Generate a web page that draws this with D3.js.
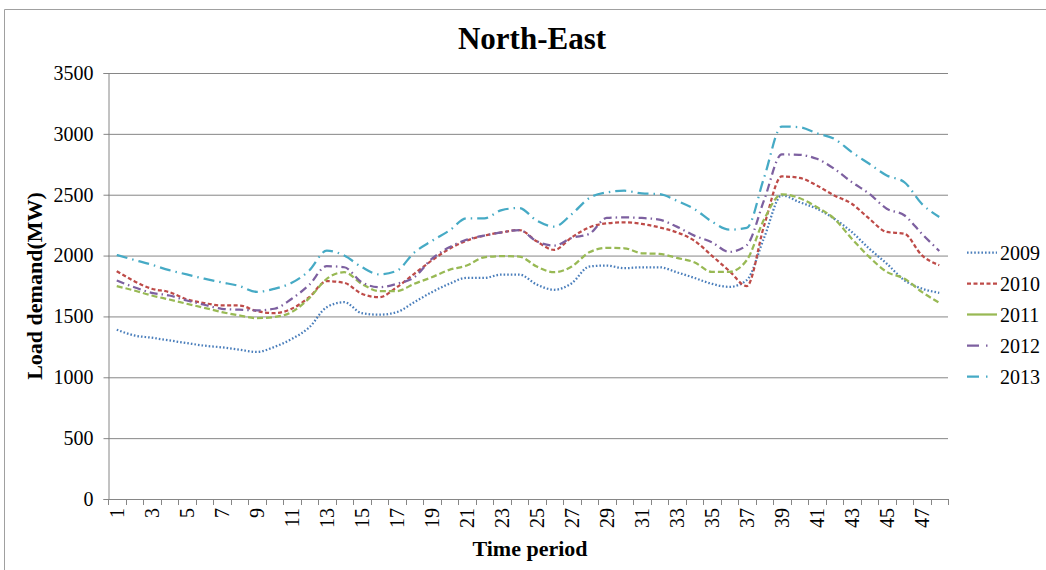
<!DOCTYPE html>
<html><head><meta charset="utf-8">
<script src="https://cdn.jsdelivr.net/npm/d3@7"></script>
<style>
html,body{margin:0;padding:0;background:#fff;}
svg{display:block;font-family:"Liberation Serif","Times New Roman",serif;}
</style></head>
<body>
<svg id="chart" width="1046" height="570"></svg>
<script>
const periods = d3.range(1, 49);
const seriesNames = ["2009", "2010", "2011", "2012", "2013"];
const yTicks = [0, 500, 1000, 1500, 2000, 2500, 3000, 3500];
const s2009 = [1391,1344,1325,1303,1281,1260,1246,1227,1208,1249,1315,1410,1576,1617,1527,1514,1535,1617,1699,1768,1817,1817,1844,1844,1762,1719,1773,1910,1918,1896,1904,1904,1863,1817,1768,1743,1798,2150,2495,2440,2385,2303,2194,2057,1934,1798,1729,1694];
const s2010 = [1872,1790,1727,1700,1640,1610,1590,1590,1544,1527,1563,1658,1790,1776,1686,1658,1740,1850,1959,2055,2123,2164,2191,2210,2117,2046,2150,2232,2265,2273,2260,2232,2191,2123,2000,1874,1749,2250,2650,2639,2576,2494,2426,2303,2194,2180,2003,1921];
const s2011 = [1749,1713,1672,1639,1604,1571,1536,1508,1486,1495,1536,1650,1809,1863,1768,1708,1708,1768,1822,1883,1918,1986,1995,1992,1910,1863,1910,2027,2063,2060,2019,2014,1981,1945,1866,1866,1962,2300,2503,2473,2399,2303,2139,1989,1866,1811,1702,1612];
const s2012 = [1795,1740,1694,1672,1631,1596,1563,1555,1550,1563,1645,1760,1913,1904,1781,1740,1768,1822,1973,2068,2131,2164,2191,2210,2117,2082,2145,2178,2309,2314,2309,2295,2238,2164,2110,2030,2085,2459,2831,2828,2795,2713,2604,2508,2385,2331,2180,2038];
const s2013 = [2005,1964,1925,1880,1845,1810,1780,1750,1702,1727,1776,1877,2041,2000,1905,1845,1875,2025,2120,2205,2306,2306,2374,2391,2287,2238,2340,2473,2519,2533,2511,2505,2451,2383,2280,2213,2227,2645,3060,3055,3005,2959,2850,2754,2658,2604,2426,2317];
const seriesValues = [s2009, s2010, s2011, s2012, s2013];

const colors = ["#4A7EBB", "#BE4B48", "#98B954", "#7D60A0", "#46AAC5"];
const dashes = ["1.6 2", "4 2.5", "6 3", "8 4 1.5 4", "11 5 1.5 5"];
const legendDashes = ["1.6 2", "4 2.5", "30 0", "12 7 1.5 10", "12 7 1.5 10"];

const svg = d3.select("#chart");
const L = 108, R = 948, T = 73, B = 499;

// outer frame
svg.append("path").attr("d", "M4.5,570 V9.5 H1046").attr("fill", "none").attr("stroke", "#a0a0a0").attr("stroke-width", 1);

const x = d3.scaleBand().domain(periods).range([L, R]).paddingInner(0).paddingOuter(0);
const y = d3.scaleLinear().domain([0, 3500]).range([B, T]);

// gridlines
svg.append("g").selectAll("line").data(yTicks.filter(d => d > 0)).join("line")
  .attr("x1", L).attr("x2", R).attr("y1", d => y(d) + 0.5).attr("y2", d => y(d) + 0.5)
  .attr("stroke", "#868686").attr("stroke-width", 1);

// y axis
const yAxis = svg.append("g").attr("transform", `translate(${L + 0.5},0)`)
  .call(d3.axisLeft(y).tickValues(yTicks).tickSize(5).tickPadding(10).tickFormat(d3.format("d")));
yAxis.select(".domain").attr("stroke", "#868686");
yAxis.selectAll(".tick line").attr("stroke", "#868686");
yAxis.selectAll(".tick text").attr("font-size", 20).attr("fill", "#000").attr("font-family", "Liberation Serif");

// x axis line + ticks between categories
svg.append("line").attr("x1", L).attr("x2", R).attr("y1", B + 0.5).attr("y2", B + 0.5).attr("stroke", "#868686");
const bounds = periods.map(p => x(p)).concat([R]);
svg.append("g").selectAll("line").data(bounds).join("line")
  .attr("x1", d => Math.round(d) + 0.5).attr("x2", d => Math.round(d) + 0.5)
  .attr("y1", B).attr("y2", B + 6).attr("stroke", "#868686");
svg.append("g").selectAll("text").data(periods.filter(p => p % 2 === 1)).join("text")
  .attr("transform", p => `translate(${x(p) + x.bandwidth() / 2 + 7},${508}) rotate(-90)`)
  .attr("text-anchor", "end").attr("font-size", 20).attr("fill", "#000")
  .text(p => p);

// lines
const line = d3.line().x((d, i) => x(periods[i]) + x.bandwidth() / 2).y(d => y(d)).curve(d3.curveMonotoneX);
svg.append("g").selectAll("path").data(seriesValues).join("path")
  .attr("d", d => line(d)).attr("fill", "none")
  .attr("stroke", (d, i) => colors[i]).attr("stroke-width", 2.25)
  .attr("stroke-dasharray", (d, i) => dashes[i]);

// legend
const lg = svg.append("g").selectAll("g").data(seriesNames).join("g")
  .attr("transform", (d, i) => `translate(967,${252.5 + i * 31})`);
lg.append("line").attr("x1", 0).attr("x2", 30).attr("y1", 0).attr("y2", 0)
  .attr("stroke", (d, i) => colors[i]).attr("stroke-width", 2.25)
  .attr("stroke-dasharray", (d, i) => legendDashes[i]);
lg.append("text").attr("x", 33).attr("y", 7).attr("font-size", 20).attr("fill", "#000").text(d => d);

// titles
svg.append("text").attr("x", 532).attr("y", 49).attr("text-anchor", "middle")
  .attr("font-size", 31).attr("font-weight", "bold").text("North-East");
svg.append("text").attr("transform", "translate(42,286) rotate(-90)").attr("text-anchor", "middle")
  .attr("font-size", 22).attr("font-weight", "bold").text("Load demand(MW)");
svg.append("text").attr("x", 530).attr("y", 556).attr("text-anchor", "middle")
  .attr("font-size", 22).attr("font-weight", "bold").text("Time period");
</script>
</body></html>
